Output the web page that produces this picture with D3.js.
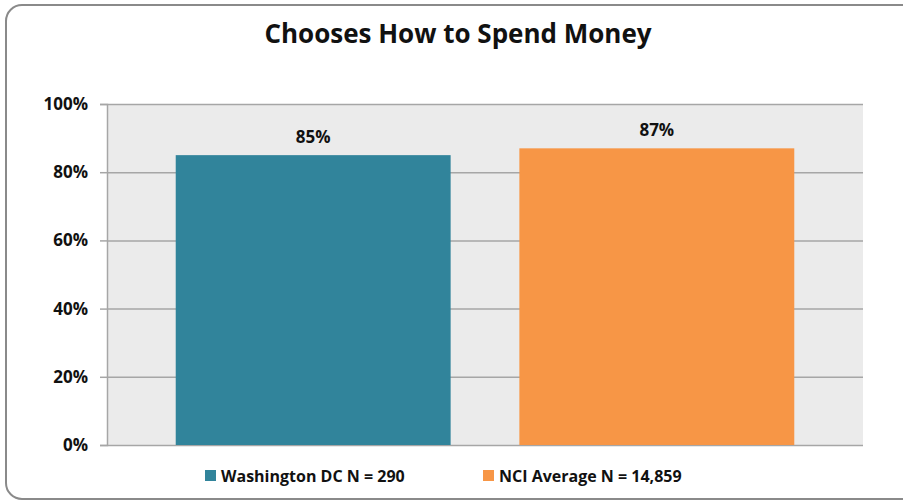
<!DOCTYPE html>
<meta charset="utf-8">
<script src="https://d3js.org/d3.v7.min.js"></script>
<style>
  body { margin: 0; background: #fff; }
  text { font-family: "Open Sans", Lato, sans-serif; font-weight: bold; fill: #111; }
</style>
<div id="chart"></div>
<script>
// data
var categories = ["Washington DC N = 290", "NCI Average N = 14,859"];
var values = [85, 87];
var colors = ["#31849b", "#f79646"];
var yTicks = [0, 20, 40, 60, 80, 100];

var W = 903, H = 502;
var margin = {top: 104, right: 40, bottom: 57, left: 107},
    width = W - margin.left - margin.right,
    height = H - margin.top - margin.bottom;

var root = d3.select("#chart").append("svg")
    .attr("width", W).attr("height", H);

// outer rounded frame
root.append("rect")
    .attr("x", 6).attr("y", 5)
    .attr("width", 920).attr("height", 494)
    .attr("rx", 16)
    .attr("fill", "#fff")
    .attr("stroke", "#8a8a8a")
    .attr("stroke-width", 2);

root.append("text")
    .attr("x", 458).attr("y", 43)
    .attr("text-anchor", "middle")
    .style("font-size", "26px")
    .text("Chooses How to Spend Money");

var svg = root.append("g")
    .attr("transform", "translate(" + margin.left + "," + margin.top + ")");

var x = d3.scaleBand()
    .domain(categories)
    .range([0, width])
    .paddingInner(0.2)
    .paddingOuter(0.2);

var y = d3.scaleLinear()
    .domain([0, 100])
    .range([height, 0]);

// plot background
svg.append("rect")
    .attr("width", width).attr("height", height)
    .attr("fill", "#ebebeb");

// gridlines + ticks
svg.append("g")
    .call(d3.axisLeft(y).tickValues(yTicks).tickSize(-width).tickFormat(""))
    .call(function(g) { g.select(".domain").remove(); })
    .selectAll("line").attr("stroke", "#a6a6a6").attr("stroke-width", 1.5);

var yAxis = svg.append("g")
    .call(d3.axisLeft(y).tickValues(yTicks).tickSize(7).tickPadding(12)
      .tickFormat(function(d) { return d + "%"; }));
yAxis.select(".domain").attr("stroke", "#a6a6a6").attr("stroke-width", 1.5);
yAxis.selectAll("line").attr("stroke", "#a6a6a6").attr("stroke-width", 1.5);
yAxis.selectAll("text").style("font-size", "17px").attr("fill", "#111");

// bars
svg.selectAll("rect.bar")
    .data(values)
    .enter().append("rect")
      .attr("class", "bar")
      .attr("x", function(d, i) { return x(categories[i]); })
      .attr("y", function(d) { return y(d); })
      .attr("width", x.bandwidth())
      .attr("height", function(d) { return height - y(d); })
      .attr("fill", function(d, i) { return colors[i]; });

svg.selectAll("text.val")
    .data(values)
    .enter().append("text")
      .attr("class", "val")
      .attr("x", function(d, i) { return x(categories[i]) + x.bandwidth() / 2; })
      .attr("y", function(d) { return y(d) - 12; })
      .attr("text-anchor", "middle")
      .style("font-size", "17px")
      .text(function(d) { return d + "%"; });

// legend
var legendX = [205, 483];
var legend = root.selectAll("g.leg")
    .data(categories)
    .enter().append("g")
      .attr("class", "leg")
      .attr("transform", function(d, i) { return "translate(" + legendX[i] + ",470)"; });
legend.append("rect")
    .attr("width", 11).attr("height", 11)
    .attr("fill", function(d, i) { return colors[i]; });
legend.append("text")
    .attr("x", 16).attr("y", 12)
    .style("font-size", "16px")
    .text(function(d) { return d; });
</script>
